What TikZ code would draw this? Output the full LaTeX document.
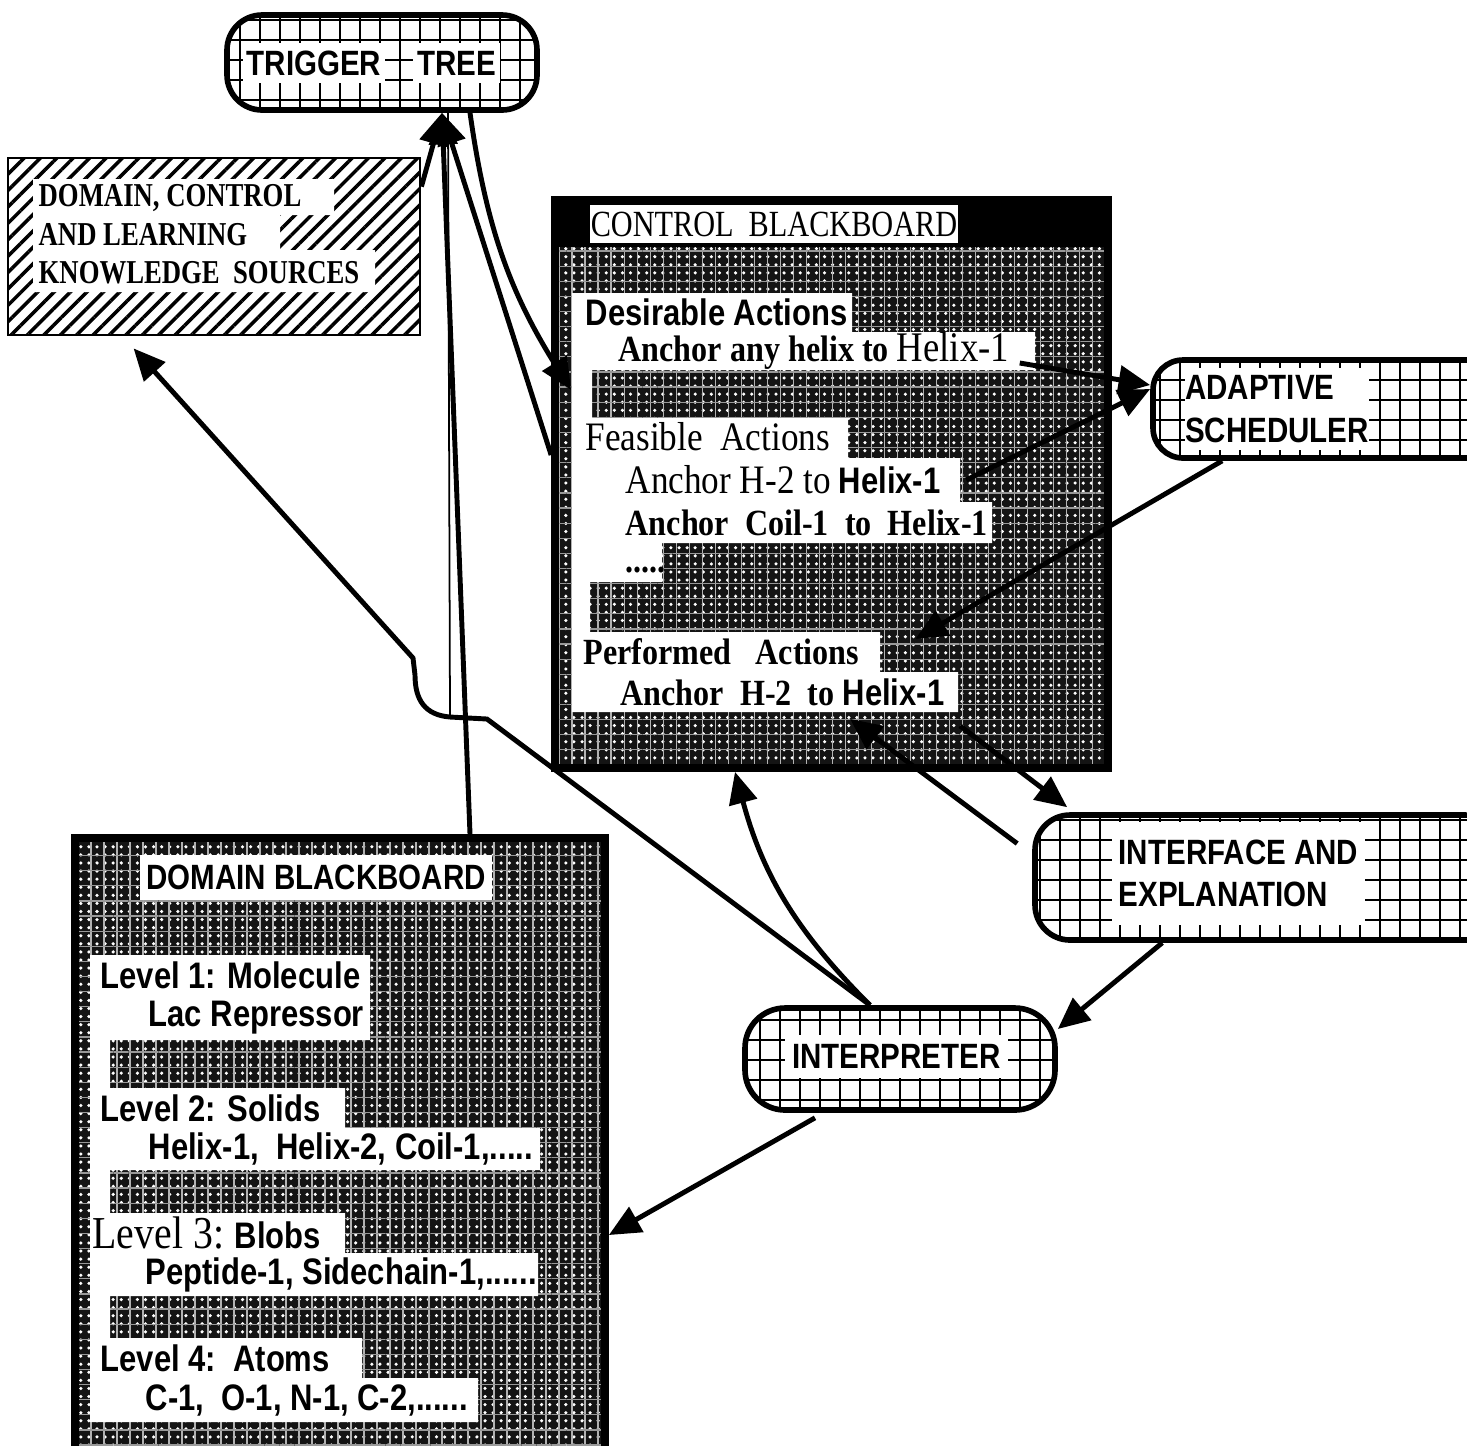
\documentclass[tikz,border=0pt]{standalone}
\usepackage{fontspec}
\setmainfont[FakeStretch=0.87]{Liberation Serif}
\newfontfamily\macfont[FakeStretch=0.84]{Liberation Sans}
\newfontfamily\capsfont[FakeStretch=0.82]{Liberation Serif}
\newfontfamily\ksfont[FakeStretch=0.80]{Liberation Serif}
\usetikzlibrary{arrows.meta,patterns.meta}
\newcommand{\msf}[1]{{\macfont\bfseries #1}}

\begin{document}
\begin{tikzpicture}[
    font=\fontsize{10.5}{12.6}\selectfont,
    gridline/.style={line width=0.8pt, step=0.2},
    gridbox/.style={rectangle, rounded corners=0.35cm, draw, line width=1.6pt, inner sep=0pt},
    boxlabel/.style={fill=white, inner sep=0pt, align=left, font=\macfont\bfseries\fontsize{10}{12}\selectfont},
    board/.style={rectangle, draw, line width=2.2pt, inner sep=0pt},
    texture/.style={fill=black!92,
        postaction={pattern={Dots[distance=2.3pt, radius=0.5pt]}, pattern color=white},
        postaction={pattern={Lines[angle=90, distance=3.7pt, line width=0.4pt]}, pattern color=white!70!black},
        postaction={pattern={Lines[angle=0, distance=4.3pt, line width=0.35pt]}, pattern color=white!60!black}},
    hatch/.style={pattern={Lines[angle=45, distance=3.3pt, line width=1pt]}},
    entry/.style={anchor=west, inner sep=0pt},
    sfentry/.style={entry, font=\macfont\bfseries\fontsize{10.5}{12}\selectfont},
    ksentry/.style={entry, font=\ksfont\bfseries\fontsize{9.5}{11}\selectfont},
    arrow/.style={-{Triangle[length=9pt, width=8pt]}, line width=1.4pt}
]
\useasboundingbox (0,0) rectangle (14.67,-14.45);
\clip (0,0) rectangle (14.67,-14.45);

% Trigger tree
\begin{scope}
  \clip[rounded corners=0.35cm] (2.27,-0.15) rectangle (5.37,-1.10);
  \draw[gridline] (2.27,-1.10) grid (5.37,-0.15);
\end{scope}
\node[boxlabel, minimum width=1.42cm, minimum height=0.40cm] (trigA) at (3.14,-0.63) {TRIGGER};
\node[boxlabel, minimum width=0.87cm, minimum height=0.40cm] (trigB) at (4.565,-0.63) {TREE};
\node[gridbox, minimum width=3.10cm, minimum height=0.95cm] (trig) at (3.82,-0.625) {};

% Knowledge sources
\fill[hatch] (0.08,-1.58) rectangle (4.20,-3.35);
\fill[white] (0.33,-1.79) -- (3.34,-1.79) -- (3.34,-2.15) -- (2.80,-2.15) -- (2.80,-2.50)
  -- (3.75,-2.50) -- (3.75,-2.92) -- (0.33,-2.92) -- cycle;
\node[ksentry] (ks1) at (0.38,-1.98) {DOMAIN, CONTROL};
\node[ksentry] (ks2) at (0.38,-2.35) {AND LEARNING};
\node[ksentry] (ks3) at (0.38,-2.73) {KNOWLEDGE\ \ SOURCES};
\node[board, line width=0.8pt, minimum width=4.12cm, minimum height=1.77cm] (ks) at (2.14,-2.465) {};

% Control blackboard
\fill[texture] (5.55,-2.00) rectangle (11.08,-7.68);
\fill[black] (5.55,-2.00) rectangle (11.08,-2.47);
\fill[white] (5.72,-2.93) -- (8.52,-2.93) -- (8.52,-3.32) -- (10.35,-3.32) -- (10.35,-3.70)
  -- (5.92,-3.70) -- (5.92,-4.18) -- (8.48,-4.18) -- (8.48,-4.58) -- (9.60,-4.58)
  -- (9.60,-5.02) -- (9.92,-5.02) -- (9.92,-5.43) -- (6.62,-5.43) -- (6.62,-5.82)
  -- (5.90,-5.82) -- (5.90,-6.32) -- (8.80,-6.32) -- (8.80,-6.72) -- (9.58,-6.72)
  -- (9.58,-7.12) -- (5.72,-7.12) -- cycle;
\node[fill=white, inner sep=0pt, minimum width=3.68cm, minimum height=0.38cm,
  font=\capsfont\fontsize{10.5}{12}\selectfont] (ctrltitle) at (7.74,-2.24) {CONTROL\ \ BLACKBOARD};
\node[sfentry] (da0) at (5.85,-3.12) {Desirable Actions};
\node[entry] (da1) at (6.18,-3.51) {\textbf{Anchor any helix to} {\fontsize{12}{13}\selectfont Helix-1}};
\node[entry, font=\fontsize{11.5}{13}\selectfont] (fa0) at (5.85,-4.37) {Feasible\ \ Actions};
\node[entry] (fa1) at (6.25,-4.80) {{\fontsize{11.5}{13}\selectfont Anchor H-2 to} \msf{Helix-1}};
\node[entry] (fa2) at (6.25,-5.225) {\textbf{Anchor\ \ Coil-1\ \ to\ \ Helix-1}};
\node[entry] (fa3) at (6.25,-5.70) {\textbf{.....}};
\node[entry] (pa0) at (5.83,-6.52) {\textbf{Performed\ \ \ Actions}};
\node[entry] (pa1) at (6.20,-6.92) {\textbf{Anchor\ \ H-2\ \ to} \msf{Helix-1}};
\node[board, minimum width=5.53cm, minimum height=5.68cm] (ctrl) at (8.315,-4.84) {};

% Adaptive scheduler
\begin{scope}
  \clip[rounded corners=0.3cm] (11.53,-3.60) rectangle (15.0,-4.58);
  \draw[gridline] (11.53,-4.58) grid (15.0,-3.60);
\end{scope}
\node[boxlabel, minimum width=1.80cm, minimum height=0.82cm] (schedtxt) at (12.77,-4.09) {ADAPTIVE\\SCHEDULER};
\node[gridbox, rounded corners=0.3cm, minimum width=3.47cm, minimum height=0.98cm] (sched) at (13.265,-4.09) {};

% Interface and explanation
\begin{scope}
  \clip[rounded corners=0.35cm] (10.35,-8.15) rectangle (15.0,-9.40);
  \draw[gridline] (10.35,-9.40) grid (15.0,-8.15);
\end{scope}
\node[boxlabel, minimum width=2.53cm, minimum height=1.03cm] (ifacetxt) at (12.385,-8.735) {INTERFACE AND\\EXPLANATION};
\node[gridbox, minimum width=4.65cm, minimum height=1.25cm] (iface) at (12.675,-8.775) {};

% Interpreter
\begin{scope}
  \clip[rounded corners=0.4cm] (7.45,-10.08) rectangle (10.55,-11.10);
  \draw[gridline] (7.45,-11.10) grid (10.55,-10.08);
\end{scope}
\node[boxlabel, minimum width=2.23cm, minimum height=0.43cm] (interptxt) at (8.965,-10.565) {INTERPRETER};
\node[gridbox, rounded corners=0.4cm, minimum width=3.10cm, minimum height=1.02cm] (interp) at (9.0,-10.59) {};

% Domain blackboard
\fill[texture] (0.75,-8.38) rectangle (6.05,-14.60);
\fill[white] (0.90,-9.55) -- (3.70,-9.55) -- (3.70,-10.40) -- (1.10,-10.40) -- (1.10,-10.88)
  -- (3.45,-10.88) -- (3.45,-11.28) -- (5.40,-11.28) -- (5.40,-11.70) -- (1.10,-11.70)
  -- (1.10,-12.13) -- (3.45,-12.13) -- (3.45,-12.53) -- (5.38,-12.53) -- (5.38,-12.96)
  -- (1.10,-12.96) -- (1.10,-13.38) -- (3.62,-13.38) -- (3.62,-13.78) -- (4.78,-13.78)
  -- (4.78,-14.22) -- (0.90,-14.22) -- cycle;
\node[fill=white, inner sep=0pt, minimum width=3.52cm, minimum height=0.45cm,
  font=\macfont\bfseries\fontsize{10}{12}\selectfont] (domtitle) at (3.16,-8.775) {DOMAIN BLACKBOARD};
\node[sfentry] (lv1) at (1.00,-9.75) {Level 1: Molecule};
\node[sfentry] (lv1a) at (1.48,-10.18) {Lac Repressor};
\node[sfentry] (lv2) at (1.00,-11.08) {Level 2: Solids};
\node[sfentry] (lv2a) at (1.48,-11.49) {Helix-1,\ \ Helix-2, Coil-1,.....};
\node[entry] (lv3) at (0.92,-12.33) {{\fontsize{13}{14}\selectfont Level 3:} \msf{Blobs}};
\node[sfentry] (lv3a) at (1.45,-12.745) {Peptide-1, Sidechain-1,......};
\node[sfentry] (lv4) at (1.00,-13.58) {Level 4:\ \ Atoms};
\node[sfentry] (lv4a) at (1.45,-14.00) {C-1,\ \ O-1, N-1, C-2,......};
\node[board, minimum width=5.30cm, minimum height=6.22cm] (dom) at (3.40,-11.49) {};

% Arrows
\coordinate (kink) at (4.50,-7.17);
\draw[arrow] ([xshift=1.30cm]dom.north) -- ([xshift=0.60cm]trig.south);
\draw[line width=0.5pt] ([xshift=0.66cm]trig.south) -- (kink);
\draw[arrow] ([yshift=-0.30cm]ks.north east) -- ([xshift=0.60cm]trig.south);
\draw[arrow] ([yshift=0.29cm]ctrl.west) -- ([xshift=0.60cm]trig.south);
\draw[arrow] ([xshift=0.88cm]trig.south) to[bend right=12] ([xshift=0.20cm,yshift=0.94cm]ctrl.west);
\draw[arrow] ([xshift=0.10cm,yshift=-0.12cm]da1.east) -- ([yshift=0.24cm]sched.west);
\draw[arrow] ([xshift=0.25cm]fa1.east) -- ([yshift=0.20cm]sched.west);
\draw[arrow] ([xshift=0.72cm]sched.south west) -- ([xshift=0.84cm,yshift=1.33cm]ctrl.south);
\draw[arrow] ([xshift=-0.15cm,yshift=0.34cm]iface.west) -- ([xshift=0.185cm,yshift=0.53cm]ctrl.south);
\draw[arrow] ([xshift=1.285cm,yshift=0.46cm]ctrl.south) -- ([xshift=0.35cm,yshift=0.05cm]iface.north west);
\draw[arrow] ([xshift=1.30cm]iface.south west) -- ([yshift=0.30cm]interp.east);
\draw[arrow] ([xshift=-0.30cm]interp.north) to[bend left=15] ([xshift=-0.965cm]ctrl.south);
\draw[arrow] ([xshift=-0.30cm]interp.north) -- (4.87,-7.19) -- (kink)
  .. controls (4.25,-7.15) and (4.15,-7.00) .. (4.15,-6.75) -- (4.13,-6.58)
  -- ([xshift=1.27cm,yshift=-0.12cm]ks.south west);
\draw[arrow] ([xshift=-0.85cm,yshift=-0.05cm]interp.south) -- ([yshift=-0.86cm]dom.east);

\end{tikzpicture}
\end{document}
